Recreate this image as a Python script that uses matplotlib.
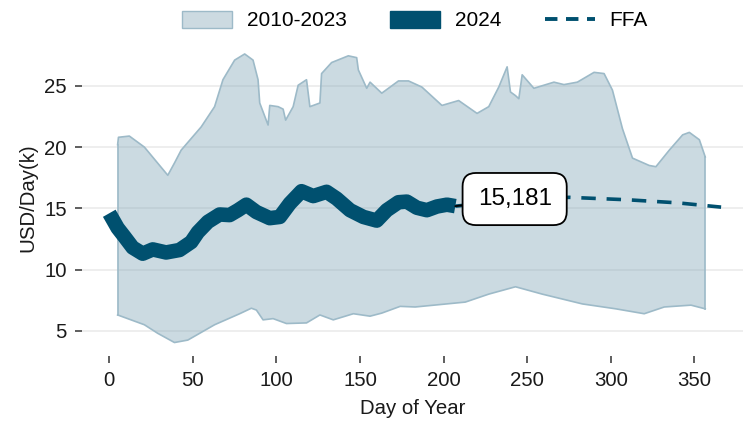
import numpy as np
import matplotlib.pyplot as plt
from matplotlib.patches import Patch
from matplotlib.lines import Line2D

plt.rcParams['font.family'] = ['Liberation Sans', 'DejaVu Sans']

# historical range 2010-2023 (upper / lower envelope), USD/day in thousands
up_days = [5, 5.5, 12, 21, 35, 39, 43, 55, 63, 68, 75, 81, 86, 89, 90, 95, 96, 101, 104,
           105.5, 110, 113, 118, 120, 126, 127, 133, 143, 148, 149, 154, 156, 163, 173,
           179, 187, 199, 209, 220, 227, 233, 238, 240, 243, 245, 247, 254, 266, 272,
           280, 290, 296, 301, 307, 313, 323, 327, 335, 343, 347, 353, 356.5]
up_vals = [20.2, 20.8, 20.9, 20.0, 17.7, 18.7, 19.75, 21.65, 23.3, 25.5, 27.1, 27.6, 27.1,
           25.5, 23.6, 21.8, 23.4, 23.3, 23.1, 22.2, 23.3, 25.05, 25.5, 23.3, 23.6, 26.0,
           26.9, 27.45, 27.3, 26.3, 24.8, 25.3, 24.4, 25.4, 25.4, 24.9, 23.4, 23.8, 22.75,
           23.3, 24.9, 26.55, 24.5, 24.2, 23.95, 25.9, 24.8, 25.3, 25.1, 25.3, 26.1, 26.0,
           24.65, 21.5, 19.1, 18.5, 18.4, 19.75, 21.0, 21.2, 20.6, 19.2]
low_days = [5, 21, 29, 39, 47, 63, 78, 85, 88, 92, 98, 106, 118, 126, 134, 146, 156, 163,
            174, 183, 213, 227, 243, 259, 283, 303, 320, 332, 348, 356.5]
low_vals = [6.3, 5.5, 4.8, 4.05, 4.25, 5.5, 6.4, 6.85, 6.7, 5.9, 6.0, 5.6, 5.65, 6.3, 5.9,
            6.4, 6.2, 6.45, 7.0, 6.95, 7.35, 8.0, 8.6, 8.0, 7.2, 6.8, 6.4, 6.95, 7.1, 6.8]

# 2024 rates
days_2024 = [0, 5, 9, 14, 20, 26, 34, 42, 49, 53, 59, 66, 72, 77, 82, 88, 96, 102, 108,
             115, 122, 130, 136, 144, 152, 160, 166, 173, 178, 184, 190, 196, 202, 207]
vals_2024 = [14.6, 13.4, 12.7, 11.8, 11.3, 11.65, 11.4, 11.6, 12.25, 13.05, 13.9, 14.5,
             14.45, 14.85, 15.3, 14.7, 14.2, 14.3, 15.4, 16.4, 16.0, 16.35, 15.8, 14.85,
             14.3, 14.0, 14.85, 15.5, 15.55, 15.05, 14.85, 15.15, 15.3, 15.181]

# forward curve
ffa_days = [207, 240, 275, 310, 340, 366]
ffa_vals = [15.181, 15.6, 15.9, 15.7, 15.45, 15.1]

dark = '#00506f'
band_face = '#ccdae1'
band_edge = '#9dbac8'

fig = plt.figure(figsize=(7.43, 4.22), dpi=100)
ax = fig.add_axes([0.1104, 0.1564, 0.8896, 0.7488])

ax.fill(up_days + low_days[::-1], up_vals + low_vals[::-1],
        facecolor='#7fa3b5', alpha=0.4, edgecolor='none', zorder=2)
ax.plot(up_days, up_vals, color=band_edge, lw=1.2, zorder=2)
ax.plot(low_days, low_vals, color=band_edge, lw=1.2, zorder=2)
ax.plot([up_days[0], low_days[0]], [up_vals[0], low_vals[0]], color=band_edge, lw=1.2, zorder=2)
ax.plot([up_days[-1], low_days[-1]], [up_vals[-1], low_vals[-1]], color=band_edge, lw=1.2, zorder=2)

ax.plot(ffa_days, ffa_vals, color=dark, lw=2.6, ls=(0, (4, 3)), zorder=3)
ax.plot(days_2024, vals_2024, color=dark, lw=10.5, solid_capstyle='butt',
        solid_joinstyle='round', zorder=4)

ax.annotate(f'{vals_2024[-1]*1000:,.0f}', xy=(days_2024[-1], vals_2024[-1]),
            xytext=(242.5, 15.76), textcoords='data', ha='center', va='center',
            fontsize=17.5, zorder=5,
            bbox=dict(boxstyle='round,pad=0.62,rounding_size=0.55', fc='white', ec='black', lw=1.3),
            arrowprops=dict(arrowstyle='-', color='black', lw=1.3, shrinkA=0, shrinkB=0))

ax.set_xlim(-16.3, 379.1)
ax.set_ylim(2.95, 28.74)
ax.set_xticks([0, 50, 100, 150, 200, 250, 300, 350])
ax.set_yticks([5, 10, 15, 20, 25])
ax.grid(axis='y', color='#ebebeb', lw=1.2, zorder=0)
ax.set_axisbelow(True)
for s in ax.spines.values():
    s.set_visible(False)
ax.tick_params(axis='both', direction='out', length=5, width=1.1, color='#333333',
               labelsize=14.7, labelcolor='#1a1a1a', pad=6)
ax.set_xlabel('Day of Year', fontsize=14.7, color='#1a1a1a', labelpad=6)
ax.set_ylabel('USD/Day(k)', fontsize=14.7, color='#1a1a1a', labelpad=5)

handles = [Patch(facecolor=band_face, edgecolor=band_edge, lw=1.0),
           Patch(facecolor=dark, edgecolor=dark, lw=1.0),
           Line2D([0], [0], color=dark, lw=2.8, ls=(0, (3.2, 2.2)))]
fig.legend(handles, ['2010-2023', '2024', 'FFA'], loc='center', ncol=3,
           bbox_to_anchor=(0.5585, 0.951), frameon=False, fontsize=15,
           handlelength=2.4, handleheight=0.85, columnspacing=2.1, handletextpad=0.7)

fig.savefig('out.png', dpi=100)
